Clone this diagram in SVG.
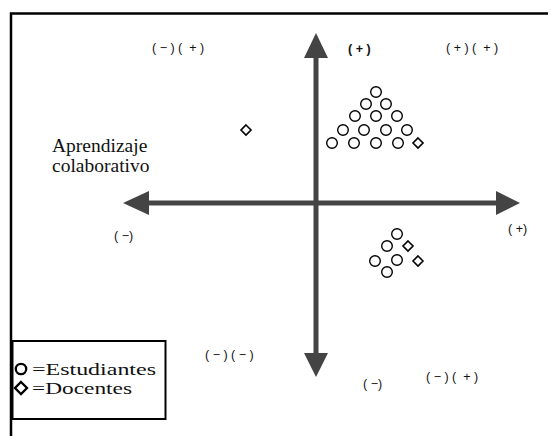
<svg xmlns="http://www.w3.org/2000/svg" width="551" height="436" viewBox="0 0 551 436">
<style>
.frame{fill:none;stroke:#000;stroke-width:2.5}
.axis{stroke:#444;stroke-width:5}
.head{fill:#444}
.st{fill:none;stroke:#000;stroke-width:1.4}
.dc{fill:none;stroke:#000;stroke-width:1.6}
.lbl{font-family:"Liberation Sans","DejaVu Sans",sans-serif;font-size:12.5px;fill:#111}
</style>
<defs>
<circle id="c" r="5.3" class="st"/>
<path id="d" d="M0,-5 L5,0 L0,5 L-5,0 Z" class="dc"/>
</defs>
<rect width="551" height="436" fill="#fff"/>
<path class="frame" d="M11,436 V13.5 H548"/>
<g id="connectors">
<line class="axis" x1="316" y1="56" x2="316" y2="355"/>
<path class="head" d="M316,33 L304,58 L328,58 Z"/>
<path class="head" d="M316,377 L304,353 L328,353 Z"/>
<line class="axis" x1="146" y1="203" x2="498" y2="203"/>
<path class="head" d="M123,203 L149,191 L149,215 Z"/>
<path class="head" d="M520,203 L496,191 L496,215 Z"/>
</g>
<g id="labels">
<text class="lbl" x="152" y="52" xml:space="preserve">( − ) (  + )</text>
<text class="lbl" x="348" y="53" font-weight="bold">( + )</text>
<text class="lbl" x="446" y="52" xml:space="preserve">( + ) (  + )</text>
<text class="lbl" x="114" y="240">( −)</text>
<text class="lbl" x="508" y="233">( +)</text>
<text class="lbl" x="205" y="359" xml:space="preserve">( − ) ( − )</text>
<text class="lbl" x="363" y="388">( −)</text>
<text class="lbl" x="426" y="381" xml:space="preserve">( − ) (  + )</text>
</g>
<g id="axis-title" font-family="Liberation Serif, serif" font-size="19.5" fill="#111">
<text x="52" y="152">Aprendizaje</text>
<text x="52" y="172">colaborativo</text>
</g>
<g id="legend">
<rect x="12.5" y="341" width="153" height="78" fill="#fff" stroke="#000" stroke-width="2"/>
<circle cx="21" cy="369" r="5.2" fill="none" stroke="#000" stroke-width="2.3"/>
<path d="M21,382 L27,388 L21,394 L15,388 Z" fill="none" stroke="#000" stroke-width="2.3"/>
<g font-family="Liberation Serif, serif" font-size="17.5" fill="#111">
<text x="32" y="375" textLength="124" lengthAdjust="spacingAndGlyphs">=Estudiantes</text>
<text x="32" y="394" textLength="100" lengthAdjust="spacingAndGlyphs">=Docentes</text>
</g>
</g>
<g id="cluster-top">
<use href="#c" x="376" y="92"/>
<use href="#c" x="366" y="104"/><use href="#c" x="386" y="104"/>
<use href="#c" x="355" y="116"/><use href="#c" x="376" y="116"/><use href="#c" x="397" y="116"/>
<use href="#c" x="343" y="130"/><use href="#c" x="364" y="130"/><use href="#c" x="386" y="130"/><use href="#c" x="407" y="130"/>
<use href="#c" x="332" y="143"/><use href="#c" x="354" y="143"/><use href="#c" x="376" y="143"/><use href="#c" x="398" y="143"/>
<use href="#d" x="418" y="143"/>
</g>
<g id="cluster-bottom">
<use href="#c" x="397" y="234"/>
<use href="#c" x="387" y="246"/>
<use href="#c" x="375" y="261"/>
<use href="#c" x="397" y="260"/>
<use href="#c" x="387" y="272"/>
<use href="#d" x="408" y="246"/>
<use href="#d" x="418" y="261"/>
</g>
<g id="lone-docente">
<use href="#d" x="246" y="130"/>
</g>
</svg>
